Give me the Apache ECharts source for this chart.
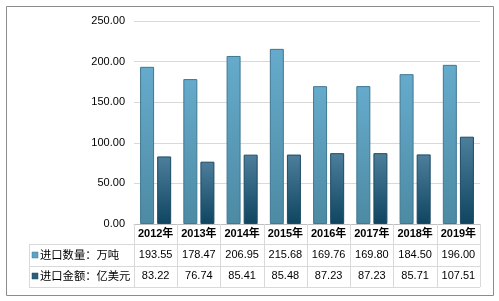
<!DOCTYPE html>
<html><head><meta charset="utf-8">
<script src="https://cdn.jsdelivr.net/npm/echarts@6/dist/echarts.min.js"></script>
<style>html,body{margin:0;padding:0;background:#fff;}#c{width:499px;height:301px;}</style>
</head><body><div id="c"></div>
<script>
var categories = ['2012年','2013年','2014年','2015年','2016年','2017年','2018年','2019年'];
var qtyName = '进口数量：万吨';
var amtName = '进口金额：亿美元';
var qtyValues = [193.55,178.47,206.95,215.68,169.76,169.80,184.50,196.00];
var amtValues = [83.22,76.74,85.41,85.48,87.23,87.23,85.71,107.51];
var yTicks = {min:0, max:250, interval:50};

var FONT = '"Liberation Sans","Noto Sans CJK SC",sans-serif';
var chart = echarts.init(document.getElementById('c'), null, {renderer:'canvas'});
var c1 = new echarts.graphic.LinearGradient(0,0,0,1,[{offset:0,color:'#66abcc'},{offset:1,color:'#4d8aa3'}]);
var c2 = new echarts.graphic.LinearGradient(0,0,0,1,[{offset:0,color:'#4d7f9c'},{offset:1,color:'#0f4560'}]);
var lineC = '#d9d9d9';
function rowAxis(vals, off){
  return {type:'category', gridIndex:0, position:'bottom', offset:off, data:categories,
    axisLine:{show:false}, axisTick:{show:false}, splitLine:{show:false},
    axisLabel:{interval:0, hideOverlap:false, margin:4, fontSize:11, color:'#000', fontFamily:FONT,
      formatter:function(v,i){return vals[i].toFixed(2);}}};
}
chart.setOption({
  animation:false,
  grid:{left:134, right:19, top:21, bottom:77, containLabel:false},
  xAxis:[
    {type:'category', data:categories, position:'bottom',
     axisLine:{lineStyle:{color:'#bfbfbf'}},
     axisTick:{show:true, interval:0, length:63, inside:false, lineStyle:{color:lineC}},
     axisLabel:{interval:0, hideOverlap:false, margin:4, fontSize:11, fontWeight:'bold', color:'#000', fontFamily:FONT}},
    rowAxis(qtyValues,21),
    rowAxis(amtValues,42)
  ],
  yAxis:{type:'value', min:yTicks.min, max:yTicks.max, interval:yTicks.interval,
    axisLine:{show:false}, axisTick:{show:false},
    splitLine:{lineStyle:{color:lineC}},
    axisLabel:{margin:9, fontSize:11, color:'#000', fontFamily:FONT,
      formatter:function(v){return v.toFixed(2);}}},
  series:[
    {name:qtyName, type:'bar', data:qtyValues, barWidth:14, barGap:'22%',
     itemStyle:{color:c1, borderColor:'#3f7891', borderWidth:1}},
    {name:amtName, type:'bar', data:amtValues, barWidth:14,
     itemStyle:{color:c2, borderColor:'#1c4a63', borderWidth:1}}
  ],
  graphic:[
    {type:'rect', shape:{x:6.5,y:6.5,width:487,height:289}, style:{fill:null, stroke:'#8c8c8c', lineWidth:1}, z:-1},
    {type:'line', shape:{x1:29,y1:244.5,x2:480,y2:244.5}, style:{stroke:lineC}},
    {type:'line', shape:{x1:29,y1:266.5,x2:480,y2:266.5}, style:{stroke:lineC}},
    {type:'line', shape:{x1:29,y1:287.5,x2:480,y2:287.5}, style:{stroke:lineC}},
    {type:'line', shape:{x1:29.5,y1:244,x2:29.5,y2:288}, style:{stroke:lineC}},
    {type:'rect', shape:{x:32,y:252,width:6,height:6}, style:{fill:'#5fa3c4', stroke:'#3f7891', lineWidth:0.5}},
    {type:'rect', shape:{x:32,y:273,width:6,height:6}, style:{fill:'#2c5f7c', stroke:'#1c4a63', lineWidth:0.5}},
    {type:'text', x:40, y:255.5, style:{text:qtyName, fontSize:11.3, fill:'#000', fontFamily:FONT, verticalAlign:'middle'}},
    {type:'text', x:40, y:276.5, style:{text:amtName, fontSize:11.3, fill:'#000', fontFamily:FONT, verticalAlign:'middle'}}
  ]
});
</script></body></html>
